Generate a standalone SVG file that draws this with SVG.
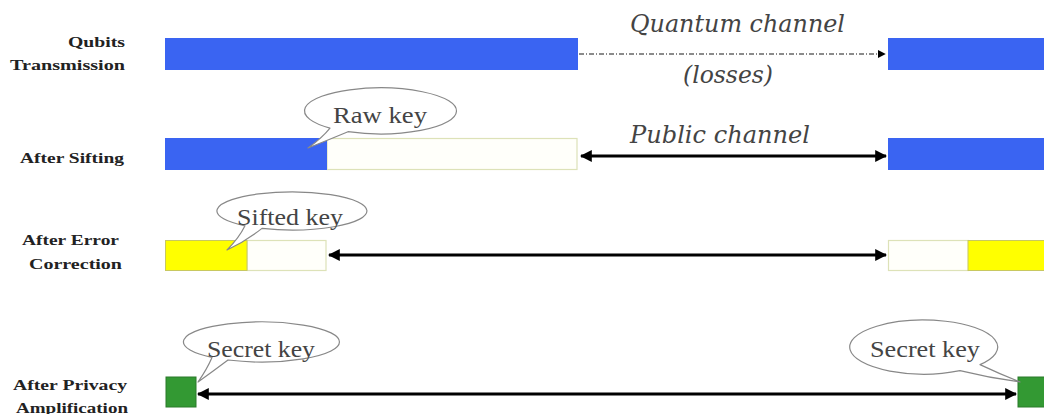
<svg xmlns="http://www.w3.org/2000/svg" width="1044" height="414" viewBox="0 0 1044 414">
<style>
.lbl{font-weight:bold;font-size:15px;fill:#222;text-anchor:end}
.it{font-style:italic;font-size:25px;fill:#444}
.bt{font-size:23px;fill:#444}
.blue{fill:#3a64f2}
.yel{fill:#ffff00;stroke:#c8c860;stroke-width:1}
.wht{fill:#fffffa;stroke:#dde2b8;stroke-width:1.2}
.grn{fill:#339933;stroke:#2a7a2a;stroke-width:1}
.bub{fill:#fff;stroke:#888;stroke-width:1.2;stroke-linejoin:round}
.arr{stroke:#000;stroke-width:3;fill:none}
</style>
<defs>
<marker id="ah" viewBox="0 0 10 10" refX="9" refY="5" markerWidth="4" markerHeight="4" orient="auto-start-reverse" markerUnits="strokeWidth">
<path d="M0,0 L10,5 L0,10 Z" fill="#000"/>
</marker>
<marker id="sh" viewBox="0 0 10 10" refX="9" refY="5" markerWidth="6" markerHeight="6" orient="auto">
<path d="M0,0 L10,5 L0,10 Z" fill="#000"/>
</marker>
</defs>
<rect width="1044" height="414" fill="#fff"/>

<g id="labels" font-family="Liberation Serif, serif">
<text class="lbl" x="125" y="47" textLength="57" lengthAdjust="spacingAndGlyphs">Qubits</text>
<text class="lbl" x="125" y="70" textLength="115" lengthAdjust="spacingAndGlyphs">Transmission</text>
<text class="lbl" x="124" y="163" textLength="104" lengthAdjust="spacingAndGlyphs">After Sifting</text>
<text class="lbl" x="119" y="245" textLength="97" lengthAdjust="spacingAndGlyphs">After Error</text>
<text class="lbl" x="122" y="269" textLength="93" lengthAdjust="spacingAndGlyphs">Correction</text>
<text class="lbl" x="127" y="390" textLength="114" lengthAdjust="spacingAndGlyphs">After Privacy</text>
<text class="lbl" x="128" y="413" textLength="112" lengthAdjust="spacingAndGlyphs">Amplification</text>
</g>

<g id="connectors">
<line x1="579" y1="54" x2="885" y2="54" stroke="#666" stroke-width="1.3" stroke-dasharray="5,2,1,2" marker-end="url(#sh)"/>
<line class="arr" x1="581" y1="156" x2="886" y2="156" marker-start="url(#ah)" marker-end="url(#ah)"/>
<line class="arr" x1="329" y1="255" x2="886" y2="255" marker-start="url(#ah)" marker-end="url(#ah)"/>
<line class="arr" x1="198" y1="394" x2="1016" y2="394" marker-start="url(#ah)" marker-end="url(#ah)"/>
</g>

<g id="channel-labels" font-family="DejaVu Serif, serif">
<text class="it" x="630" y="32" textLength="215" lengthAdjust="spacingAndGlyphs">Quantum channel</text>
<text class="it" x="683" y="83" textLength="90" lengthAdjust="spacingAndGlyphs">(losses)</text>
<text class="it" x="630" y="143" textLength="180" lengthAdjust="spacingAndGlyphs">Public channel</text>
</g>

<g id="row-qubits">
<rect class="blue" x="165" y="38" width="413" height="32"/>
<rect class="blue" x="888" y="38" width="156" height="32"/>
</g>

<g id="row-sifting">
<rect class="wht" x="327" y="138.5" width="250" height="31"/>
<rect class="blue" x="165" y="138" width="162" height="32"/>
<rect class="blue" x="888" y="138" width="156" height="32"/>
</g>

<g id="row-error">
<rect class="wht" x="247" y="240.5" width="79" height="30"/>
<rect class="yel" x="165.5" y="240.5" width="81.5" height="30"/>
<rect class="wht" x="888.5" y="240.5" width="80" height="30"/>
<rect class="yel" x="968" y="240.5" width="78" height="30"/>
</g>

<g id="row-privacy">
<rect class="grn" x="166" y="377" width="30" height="30"/>
<rect class="grn" x="1018" y="377" width="30" height="30"/>
</g>

<g id="bubbles" font-family="Liberation Serif, serif">
<g id="bubble-raw">
<path class="bub" d="M330,128.1 A76,23 0 1 1 348,131.7 Q328,140 308,148 Q322,138 330,128.1 Z"/>
<text class="bt" x="333" y="123" textLength="94" lengthAdjust="spacingAndGlyphs">Raw key</text>
</g>
<g id="bubble-sifted">
<path class="bub" d="M245,225.8 A75,19 0 1 1 262,228.4 Q246,241 227,250 Q239,238 245,225.8 Z"/>
<text class="bt" x="237" y="225" textLength="106" lengthAdjust="spacingAndGlyphs">Sifted key</text>
</g>
<g id="bubble-secret-left">
<path class="bub" d="M212,357.4 A78,20 0 1 1 228,360 Q212,372 198,382 Q207,369 212,357.4 Z"/>
<text class="bt" x="207" y="357" textLength="108" lengthAdjust="spacingAndGlyphs">Secret key</text>
</g>
<g id="bubble-secret-right">
<path class="bub" d="M960,370.6 A74,27 0 1 1 980,364.6 Q1000,374 1020,382 Q990,378 960,370.6 Z"/>
<text class="bt" x="870" y="357" textLength="110" lengthAdjust="spacingAndGlyphs">Secret key</text>
</g>
</g>
</svg>
